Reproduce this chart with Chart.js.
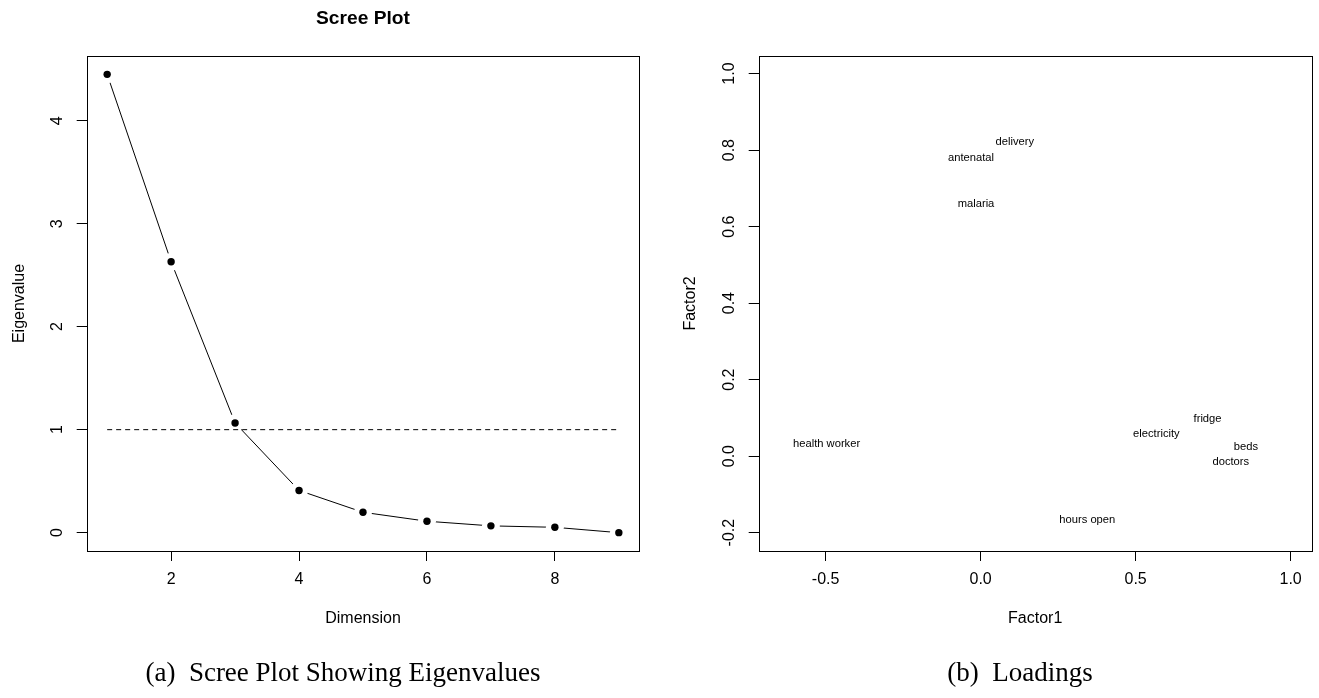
<!DOCTYPE html>
<html><head><meta charset="utf-8">
<script src="https://cdn.jsdelivr.net/npm/chart.js@4.4.1/dist/chart.umd.min.js"></script>
<style>
html,body{margin:0;padding:0;background:#fff;width:1319px;height:698px;overflow:hidden;}
#c1{position:absolute;left:0;top:0;}
#c2{position:absolute;left:660px;top:0;}
.cap{position:absolute;font-family:"Liberation Serif","Times New Roman",serif;font-size:27px;color:#000;white-space:nowrap;transform:translate(-50%,-50%);}
</style></head><body>
<canvas id="c1" width="660" height="698"></canvas>
<canvas id="c2" width="659" height="698"></canvas>
<div class="cap" style="left:343px;top:672px">(a)&nbsp; Scree Plot Showing Eigenvalues</div>
<div class="cap" style="left:1020px;top:672px">(b)&nbsp; Loadings</div>
<script>
// ---- Scree plot data ----
const dimensions = [1, 2, 3, 4, 5, 6, 7, 8, 9];
const eigenvalues = [4.45, 2.63, 1.065, 0.41, 0.198, 0.111, 0.066, 0.052, 0.0];
const refLineX = [1, 9];
const refLineY = [1, 1];
const screeXTicks = [2, 4, 6, 8];
const screeYTicks = [0, 1, 2, 3, 4];

// ---- Loadings data ----
const variables = ['delivery', 'antenatal', 'malaria', 'health worker', 'fridge', 'electricity', 'beds', 'doctors', 'hours open'];
const factor1 = [0.11, -0.031, -0.015, -0.497, 0.732, 0.567, 0.856, 0.807, 0.344];
const factor2 = [0.822, 0.780, 0.659, 0.032, 0.097, 0.057, 0.024, -0.016, -0.166];
const loadXTicks = [-0.5, 0.0, 0.5, 1.0];
const loadYTicks = [-0.2, 0.0, 0.2, 0.4, 0.6, 0.8, 1.0];

const FONT = "'Liberation Sans', Arial, Helvetica, sans-serif";
const tickFont = {family: FONT, size: 16};

const framePlugin = {
  id: 'frame',
  afterDraw(chart) {
    const {ctx, chartArea: a} = chart;
    ctx.save();
    ctx.strokeStyle = '#000';
    ctx.lineWidth = 1;
    ctx.strokeRect(Math.round(a.left) + 0.5, Math.round(a.top) + 0.5,
      Math.round(a.right) - Math.round(a.left), Math.round(a.bottom) - Math.round(a.top));
    ctx.restore();
  }
};

const screeTitle = {
  id: 'screeTitle',
  afterDraw(chart) {
    const {ctx, chartArea: a} = chart;
    ctx.save();
    ctx.fillStyle = '#000';
    ctx.font = 'bold 19.2px ' + FONT;
    ctx.textAlign = 'center';
    ctx.textBaseline = 'alphabetic';
    ctx.fillText('Scree Plot', (a.left + a.right) / 2, 24);
    ctx.restore();
  }
};

const textLabels = {
  id: 'textLabels',
  afterDatasetsDraw(chart) {
    const {ctx} = chart;
    const meta = chart.getDatasetMeta(0);
    ctx.save();
    ctx.fillStyle = '#000';
    ctx.font = '11.2px ' + FONT;
    ctx.textAlign = 'center';
    ctx.textBaseline = 'middle';
    meta.data.forEach((el, i) => ctx.fillText(variables[i], el.x, el.y));
    ctx.restore();
  }
};

function mkX(min, max, ticks, title, fmt) {
  return {
    type: 'linear', position: 'bottom', min, max,
    afterBuildTicks: s => { s.ticks = ticks.map(v => ({value: v})); },
    afterFit: s => { s.height = 147; },
    grid: {display: true, drawOnChartArea: false, drawTicks: true, tickLength: 10, color: '#000', lineWidth: 1},
    border: {display: false},
    ticks: {font: tickFont, color: '#000', padding: 9.4, maxRotation: 0, minRotation: 0, autoSkip: false, callback: fmt},
    title: {display: true, text: title, font: tickFont, color: '#000', padding: {top: 0, bottom: 69.4}}
  };
}
function mkY(min, max, ticks, title, fmt, width, pad, titlePad) {
  return {
    type: 'linear', position: 'left', min, max,
    afterBuildTicks: s => { s.ticks = ticks.map(v => ({value: v})); },
    afterFit: s => { s.width = width; },
    grid: {display: true, drawOnChartArea: false, drawTicks: true, tickLength: 10, color: '#000', lineWidth: 1},
    border: {display: false},
    ticks: {font: tickFont, color: '#000', padding: pad, minRotation: 90, maxRotation: 90, crossAlign: 'center', autoSkip: false, callback: fmt},
    title: {display: true, text: title, font: tickFont, color: '#000', padding: {top: titlePad, bottom: 0}}
  };
}

const common = {
  responsive: false, animation: false, events: [],
  plugins: {legend: {display: false}, tooltip: {enabled: false}, title: {display: false}}
};

const screePts = dimensions.map((d, i) => ({x: d, y: eigenvalues[i]}));
new Chart(document.getElementById('c1'), {
  type: 'scatter',
  data: {datasets: [
    {label: 'points', data: screePts, showLine: false, pointRadius: 3.7, pointBackgroundColor: '#000', pointBorderWidth: 0, order: 0},
    {label: 'ref', data: refLineX.map((x, i) => ({x, y: refLineY[i]})), showLine: true, borderColor: '#000', borderWidth: 1, borderDash: [5, 4], pointRadius: 0, order: 1},
    {label: 'mask', data: screePts, showLine: false, pointRadius: 9, pointBackgroundColor: '#fff', pointBorderWidth: 0, order: 2},
    {label: 'line', data: screePts, showLine: true, borderColor: '#000', borderWidth: 1, pointRadius: 0, order: 3}
  ]},
  options: Object.assign({}, common, {
    layout: {padding: {left: 0, right: 20.7, top: 56, bottom: 0}},
    scales: {
      x: mkX(0.68, 9.32, screeXTicks, 'Dimension', v => String(v)),
      y: mkY(-0.178, 4.628, screeYTicks, 'Eigenvalue', v => String(v), 86.7, 14.25, 10.4)
    }
  }),
  plugins: [framePlugin, screeTitle]
});

new Chart(document.getElementById('c2'), {
  type: 'scatter',
  data: {datasets: [
    {label: 'loadings', data: factor1.map((f, i) => ({x: f, y: factor2[i]})), pointRadius: 0, showLine: false}
  ]},
  options: Object.assign({}, common, {
    layout: {padding: {left: 0, right: 7.3, top: 56, bottom: 0}},
    scales: {
      x: mkX(-0.716, 1.068, loadXTicks, 'Factor1', v => Number(v).toFixed(1)),
      y: mkY(-0.248, 1.046, loadYTicks, 'Factor2', v => Number(v).toFixed(1), 98.7, 5.2, 21)
    }
  }),
  plugins: [framePlugin, textLabels]
});
</script>
</body></html>
